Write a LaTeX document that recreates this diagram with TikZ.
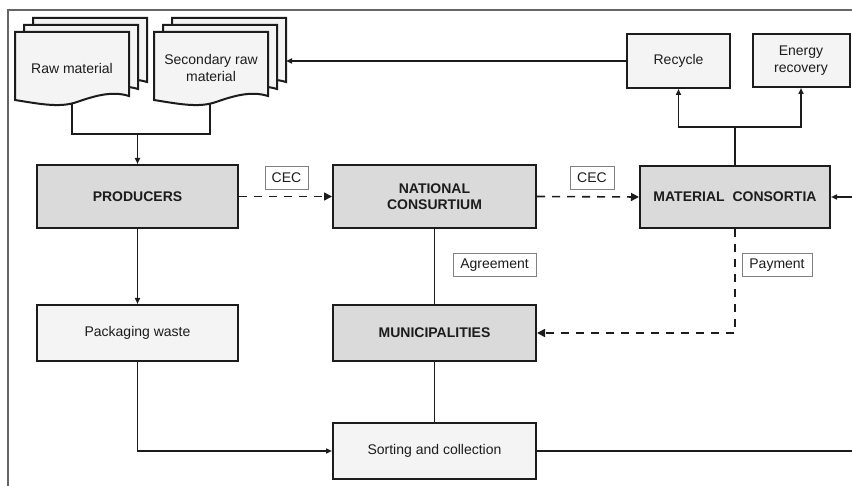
\documentclass[tikz,border=0pt]{standalone}
\usepackage{fontspec}
\setmainfont{Liberation Sans}
\usepackage{tikz}
\usetikzlibrary{arrows.meta,calc,positioning}
\definecolor{BoxGray}{RGB}{218,218,218}
\definecolor{PaleGray}{RGB}{244,244,244}
\definecolor{InkBlack}{RGB}{28,28,28}
\definecolor{TagGray}{RGB}{128,128,128}
\tikzset{
  actor/.style={draw=InkBlack,line width=2pt,fill=BoxGray,font=\fontsize{14}{16.5}\selectfont\bfseries,align=center,text=InkBlack},
  stage/.style={draw=InkBlack,line width=2pt,fill=PaleGray,align=center,text=InkBlack},
  tag/.style={draw=TagGray,line width=.9pt,fill=white,minimum width=#1,minimum height=23pt,text=InkBlack},
  docshape/.style={draw=InkBlack,line width=2pt,fill=PaleGray},
  flow/.style={draw=InkBlack,line width=1.5pt},
  money/.style={draw=InkBlack,line width=1.6pt,dash pattern=on 8pt off 7pt}
}
\begin{document}
\begin{tikzpicture}[x=1pt,y=-1pt,font=\fontsize{14}{16.5}\selectfont]
\useasboundingbox (0,0) rectangle (852,486);
\draw[line width=1.4pt,draw=gray!80!black] (8,486) |- (852,10);
% document stacks
\foreach \sx in {15,154}{
\foreach \d in {2,1,0}{
\draw[docshape,shift={(\sx+9*\d,32-7*\d)}] (0,0) -- (114,0) -- (114,64) .. controls (98,59) and (82,63) .. (62,70) .. controls (45,76) and (25,72) .. (0,68) -- cycle;}}
\node[text=InkBlack] (raw) at (72,68) {Raw material};
\node[text=InkBlack,align=center] (secraw) at (211,68) {Secondary raw\\material};
\coordinate (rawfoot) at (72,103);
\coordinate (secfoot) at (210,103);
\coordinate (secside) at (286,61);
\coordinate (join) at (137.5,134);
% boxes
\node[actor,minimum width=201pt,minimum height=63pt] (prod) at (137.5,196.5) {PRODUCERS};
\node[actor,minimum width=203pt,minimum height=63pt] (nat) at (434.5,196.5) {NATIONAL\\CONSURTIUM};
\node[actor,minimum width=190pt,minimum height=62pt] (mat) at (735,197) {MATERIAL\ \ CONSORTIA};
\node[stage,minimum width=201pt,minimum height=56pt] (pack) at (137.5,333) {Packaging waste};
\node[actor,minimum width=203pt,minimum height=56pt] (mun) at (434.5,333) {MUNICIPALITIES};
\node[stage,minimum width=203pt,minimum height=56pt] (sort) at (434.5,451) {Sorting and collection};
\node[stage,minimum width=103pt,minimum height=54pt] (rec) at (678.5,61) {Recycle};
\node[stage,minimum width=97pt,minimum height=53pt] (ener) at (801,60.5) {Energy\\recovery};
\node[tag=43pt] (cec1) at (286.5,177.5) {CEC};
\node[tag=44pt] (cec2) at (592,177.5) {CEC};
\node[tag=83pt] (agr) at (494.5,265) {Agreement};
\node[tag=70pt] (pay) at (777,265) {Payment};
\coordinate (inright) at (852,197);
\coordinate (outright) at (852,451);
\coordinate (split) at (735,127);
% connectors
\draw[flow] (rawfoot) |- (join) -| (secfoot);
\draw[flow,-{Triangle[length=6pt,width=5pt]}] (join) -- (prod.north);
\draw[flow,-{Triangle[length=6pt,width=5pt]}] (rec.west) -- (secside);
\draw[flow] (mat.north) -- (split);
\draw[flow,-{Triangle[length=6pt,width=5pt]}] (split) -| (rec.south);
\draw[flow,-{Triangle[length=6pt,width=5pt]}] (split) -| (ener.south);
\draw[flow,-{Triangle[length=6pt,width=5pt]}] (inright) -- (mat.east);
\draw[money,-{Triangle[length=8pt,width=8pt]}] (prod.east) -- (nat.west);
\draw[money,-{Triangle[length=8pt,width=8pt]}] (nat.east) -- (mat.west);
\draw[money,-{Triangle[length=8pt,width=8pt]}] (mat.south) |- (mun.east);
\draw[flow] (nat.south) -- (mun.north);
\draw[flow] (mun.south) -- (sort.north);
\draw[flow,-{Triangle[length=6pt,width=5pt]}] (prod.south) -- (pack.north);
\draw[flow,-{Triangle[length=6pt,width=5pt]}] (pack.south) |- (sort.west);
\draw[flow] (sort.east) -- (outright);
\end{tikzpicture}
\end{document}
